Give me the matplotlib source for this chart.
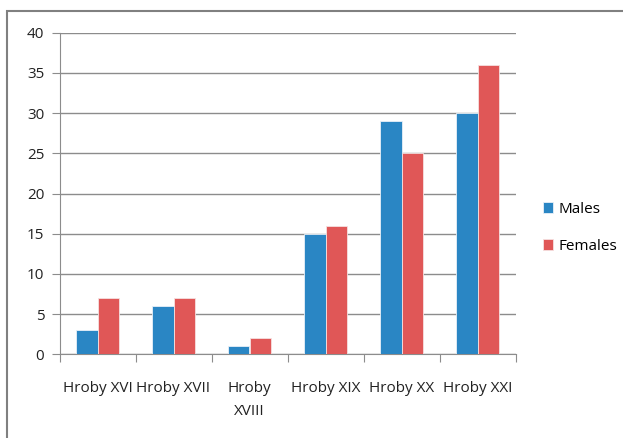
import matplotlib
matplotlib.use("Agg")
import matplotlib.pyplot as plt
import numpy as np
from matplotlib.patches import Rectangle

categories = ["Hroby XVI", "Hroby XVII", "Hroby\nXVIII", "Hroby XIX", "Hroby XX", "Hroby XXI"]
males = [3, 6, 1, 15, 29, 30]
females = [7, 7, 2, 16, 25, 36]
yticks = [0, 5, 10, 15, 20, 25, 30, 35, 40]

blue = "#2a86c4"
red = "#e05757"
grid = "#8c8c8c"

plt.rcParams['font.family'] = ['Open Sans', 'DejaVu Sans']

fig = plt.figure(figsize=(6.23, 4.38), dpi=100)
W, H = 623, 438
ax = fig.add_axes([59.5 / W, 1 - 354.3 / H, (515.5 - 59.5) / W, (354.3 - 32.7) / H])

# chart border (cropped at right and bottom)
fig.patches.append(Rectangle((7 / W, -0.1), 1.2, 1 - 11 / H + 0.1, transform=fig.transFigure,
                             fill=False, edgecolor="#808080", linewidth=1.5))

x = np.arange(len(categories))
w = 0.285
ax.bar(x - w / 2, males, w, color=blue, edgecolor="#e8f0f8", linewidth=0.6, label="Males", zorder=3)
ax.bar(x + w / 2, females, w, color=red, edgecolor="#f5e0e0", linewidth=0.6, label="Females", zorder=3)

ax.set_xlim(-0.5, len(categories) - 0.5)
ax.set_ylim(0, 40)
ax.set_yticks(yticks)
ax.yaxis.grid(True, color=grid, linewidth=1)
ax.set_axisbelow(True)

ax.set_xticks(np.arange(len(categories) + 1) - 0.5, minor=False)
ax.set_xticklabels([])
ax.set_xticks(x, minor=True)
ax.set_xticklabels(categories, minor=True, fontsize=11, color="#222222", linespacing=1.75)
ax.tick_params(axis="x", which="minor", length=0, pad=19)
ax.tick_params(axis="x", which="major", length=6, color=grid)
ax.tick_params(axis="y", length=6, color=grid, labelsize=11, labelcolor="#222222", pad=5)

for s in ["top", "right"]:
    ax.spines[s].set_visible(False)
for s in ["left", "bottom"]:
    ax.spines[s].set_color(grid)

ax.legend(loc="center left", bbox_to_anchor=(529 / W, 1 - 228 / H), bbox_transform=fig.transFigure,
          frameon=False, fontsize=11, handlelength=0.7, handleheight=0.7, handletextpad=0.35,
          labelspacing=1.45)

fig.savefig("out.png", dpi=100)
